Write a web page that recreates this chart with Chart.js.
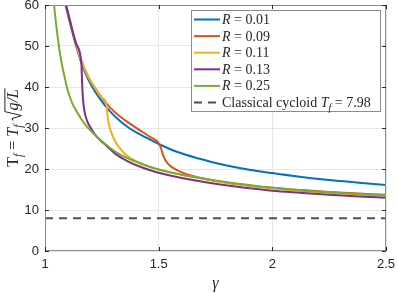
<!DOCTYPE html>
<html>
<head>
<meta charset="utf-8">
<script src="https://cdn.jsdelivr.net/npm/chart.js@4.4.1/dist/chart.umd.min.js"></script>
<style>
    body { margin: 0; background: #fff; }
    canvas { display: block; }
</style>
</head>
<body>
<canvas id="grafico-tempo" width="397" height="293"></canvas>
<script>
// values
var xTicks = [1, 1.5, 2, 2.5]
var yTicks = [0, 10, 20, 30, 40, 50, 60]
var rValues = [0.01, 0.09, 0.11, 0.13, 0.25]
var classicalT = 7.98

var gammaR001 = [1.075, 1.09, 1.112, 1.137, 1.16, 1.19, 1.218, 1.25, 1.29, 1.33, 1.37, 1.416, 1.46, 1.5, 1.58, 1.68, 1.77, 1.88, 2.0, 2.12, 2.25, 2.38, 2.5]
var timeR001 = [63.5, 60, 55.2, 50.0, 45.9, 41.9, 39.1, 36.5, 33.8, 31.7, 30.0, 28.5, 27.2, 26.1, 24.2, 22.5, 21.2, 20.0, 19.0, 18.1, 17.3, 16.65, 16.1]

var gammaR009 = [1.075, 1.09, 1.112, 1.137, 1.16, 1.19, 1.218, 1.25, 1.29, 1.33, 1.37, 1.416, 1.46, 1.5, 1.508, 1.515, 1.522, 1.535, 1.55, 1.575, 1.61, 1.65, 1.7, 1.76, 1.83, 1.92, 2.0, 2.12, 2.25, 2.38, 2.5]
var timeR009 = [64, 60.5, 55.7, 50.5, 46.4, 42.5, 39.9, 37.4, 34.8, 32.8, 31.2, 29.5, 27.9, 26.3, 25.4, 24.2, 23.0, 21.7, 20.8, 19.9, 19.0, 18.3, 17.6, 17.0, 16.4, 15.8, 15.4, 14.9, 14.4, 14.0, 13.7]

var gammaR011 = [1.075, 1.09, 1.112, 1.137, 1.16, 1.19, 1.218, 1.25, 1.27, 1.274, 1.279, 1.285, 1.295, 1.306, 1.32, 1.336, 1.36, 1.39, 1.43, 1.48, 1.54, 1.6, 1.68, 1.77, 1.88, 2.0, 2.12, 2.25, 2.38, 2.5]
var timeR011 = [64, 60.5, 55.7, 50.5, 46.4, 42.5, 39.9, 37.4, 35.9, 33.5, 31.5, 30.0, 28.4, 27.0, 25.7, 24.6, 23.3, 22.2, 21.2, 20.2, 19.3, 18.6, 17.8, 16.9, 16.1, 15.3, 14.7, 14.2, 13.8, 13.5]

var gammaR013 = [1.075, 1.09, 1.112, 1.137, 1.16, 1.162, 1.164, 1.167, 1.171, 1.177, 1.186, 1.2, 1.22, 1.245, 1.27, 1.31, 1.36, 1.416, 1.48, 1.56, 1.65, 1.77, 1.88, 2.0, 2.12, 2.25, 2.38, 2.5]
var timeR013 = [64, 60.5, 55.7, 50.5, 45.8, 43.0, 40.0, 37.2, 35.0, 33.2, 31.6, 30.1, 28.4, 26.9, 25.7, 23.7, 22.0, 20.6, 19.4, 18.3, 17.3, 16.2, 15.4, 14.7, 14.2, 13.7, 13.3, 13.0]

var gammaR025 = [1.035, 1.04, 1.05, 1.062, 1.075, 1.086, 1.1, 1.12, 1.145, 1.165, 1.19, 1.22, 1.262, 1.31, 1.36, 1.416, 1.48, 1.56, 1.65, 1.77, 1.88, 2.0, 2.12, 2.25, 2.38, 2.5]
var timeR025 = [64, 60, 54.8, 49.6, 45.3, 42.5, 39.2, 36.0, 33.5, 31.7, 30.0, 28.3, 26.2, 24.2, 22.7, 21.4, 20.2, 19.1, 18.1, 17.0, 16.2, 15.4, 14.8, 14.3, 13.9, 13.6]

var colors = ['#0072BD', '#D95319', '#EDB120', '#7E2F8E', '#77AC30']
var textColor = '#262626'
var boxColor = '#8c8c8c'

function pontos(xs, ys) {
    return xs.map(function (x, i) { return { x: x, y: ys[i] } })
}

var curves = [
    pontos(gammaR001, timeR001),
    pontos(gammaR009, timeR009),
    pontos(gammaR011, timeR011),
    pontos(gammaR013, timeR013),
    pontos(gammaR025, timeR025)
]

var datasets = curves.map(function (data, i) {
    return {
        label: 'R = ' + rValues[i],
        data: data,
        borderColor: colors[i],
        borderWidth: 2,
        pointRadius: 0,
        cubicInterpolationMode: 'monotone',
        order: 5 - i
    }
})

datasets.push({
    label: 'Classical cycloid T = ' + classicalT,
    data: [{ x: xTicks[0], y: classicalT }, { x: xTicks[xTicks.length - 1], y: classicalT }],
    borderColor: '#4d4d4d',
    borderWidth: 2,
    borderDash: [8, 6],
    pointRadius: 0,
    order: 6
})

// draws a run of pieces: [text, 'r' upright | 'i' italic | 's' italic subscript]
function drawMath(ctx, parts, x, y, size) {
    parts.forEach(function (p) {
        var s = p[1] === 's' ? size * 0.72 : size
        ctx.font = (p[1] === 'r' ? '' : 'italic ') + s + 'px "Liberation Serif", serif'
        ctx.fillText(p[0], x, y + (p[1] === 's' ? size * 0.25 : 0))
        x += ctx.measureText(p[0]).width
    })
    return x
}

function mathWidth(ctx, parts, size) {
    var w = 0
    parts.forEach(function (p) {
        var s = p[1] === 's' ? size * 0.72 : size
        ctx.font = (p[1] === 'r' ? '' : 'italic ') + s + 'px "Liberation Serif", serif'
        w += ctx.measureText(p[0]).width
    })
    return w
}

var boxPlugin = {
    id: 'caixa',
    afterDatasetsDraw: function (chart) {
        var ctx = chart.ctx
        var a = chart.chartArea
        var xs = chart.scales.x
        var ys = chart.scales.y
        ctx.save()
        ctx.strokeStyle = boxColor
        ctx.lineWidth = 1
        ctx.strokeRect(a.left + 0.5, a.top + 0.5, a.right - a.left - 1, a.bottom - a.top - 1)
        // small inner tick marks like matlab
        ctx.strokeStyle = textColor
        ctx.beginPath()
        xTicks.forEach(function (t) {
            var px = Math.round(xs.getPixelForValue(t)) + 0.5
            ctx.moveTo(px, a.bottom); ctx.lineTo(px, a.bottom - 4)
            ctx.moveTo(px, a.top); ctx.lineTo(px, a.top + 4)
        })
        yTicks.forEach(function (t) {
            var py = Math.round(ys.getPixelForValue(t)) + 0.5
            ctx.moveTo(a.left, py); ctx.lineTo(a.left + 4, py)
            ctx.moveTo(a.right, py); ctx.lineTo(a.right - 4, py)
        })
        ctx.stroke()
        ctx.restore()
    },
    afterDraw: function (chart) {
        var ctx = chart.ctx
        ctx.save()
        // legend
        var lx = 191, ly = 10, lw = 189, lh = 101
        ctx.fillStyle = '#fff'
        ctx.fillRect(lx, ly, lw, lh)
        ctx.strokeStyle = boxColor
        ctx.lineWidth = 1
        ctx.strokeRect(lx + 0.5, ly + 0.5, lw, lh)
        chart.data.datasets.forEach(function (ds, i) {
            var cy = 19.5 + i * 16.6
            ctx.strokeStyle = ds.borderColor
            ctx.lineWidth = 2
            ctx.setLineDash(ds.borderDash || [])
            ctx.beginPath()
            ctx.moveTo(194, cy)
            ctx.lineTo(220, cy)
            ctx.stroke()
            ctx.setLineDash([])
            ctx.fillStyle = textColor
            ctx.textBaseline = 'alphabetic'
            ctx.textAlign = 'left'
            var parts
            if (i < rValues.length) {
                parts = [['R', 'i'], [' = ' + rValues[i], 'r']]
            } else {
                parts = [['Classical cycloid ', 'r'], ['T', 'i'], ['f', 's'], [' = ' + classicalT, 'r']]
            }
            drawMath(ctx, parts, 222, cy + 4.5, 14)
        })

        // y axis title, rotated, with a drawn radical over g/L
        var size = 16
        var left = [['T', 'r'], ['f', 's'], [' = ', 'r'], ['T', 'i'], ['f', 's'], [' ', 'r']]
        var rad = [['g/L', 'i']]
        var lw1 = mathWidth(ctx, left, size)
        var gw = mathWidth(ctx, rad, size)
        var w = lw1 + 10 + gw
        ctx.translate(18, 128)
        ctx.rotate(-Math.PI / 2)
        ctx.fillStyle = textColor
        var x0 = drawMath(ctx, left, -w / 2, 0, size)
        ctx.strokeStyle = textColor
        ctx.lineWidth = 1
        ctx.beginPath()
        ctx.moveTo(x0, -size * 0.3)
        ctx.lineTo(x0 + 2, -size * 0.38)
        ctx.lineTo(x0 + 5, size * 0.22)
        ctx.lineTo(x0 + 9, -size * 0.82)
        ctx.lineTo(x0 + 10 + gw + 1, -size * 0.82)
        ctx.stroke()
        drawMath(ctx, rad, x0 + 10, 0, size)
        ctx.restore()
    }
}

new Chart(document.querySelector('#grafico-tempo'), {
    type: 'line',
    data: { datasets: datasets },
    options: {
        responsive: false,
        animation: false,
        devicePixelRatio: 1,
        layout: { padding: { top: 5, right: 11, left: 0, bottom: 0 } },
        plugins: {
            legend: { display: false },
            tooltip: { enabled: false }
        },
        scales: {
            x: {
                type: 'linear',
                min: xTicks[0],
                max: xTicks[xTicks.length - 1],
                afterBuildTicks: function (scale) {
                    scale.ticks = xTicks.map(function (v) { return { value: v } })
                },
                ticks: {
                    color: textColor,
                    padding: 6,
                    maxRotation: 0,
                    font: { family: '"Liberation Sans", Arial', size: 13 },
                    callback: function (v) { return String(v) }
                },
                grid: { color: '#e6e6e6', drawTicks: false },
                border: { display: false },
                title: {
                    display: true,
                    text: '\u03B3',
                    color: textColor,
                    padding: { top: 0, bottom: 0 },
                    font: { family: '"Liberation Serif", serif', style: 'italic', size: 16 }
                },
                afterFit: function (scale) {
                    scale.height = 42
                    scale.paddingLeft = 0
                    scale.paddingRight = 0
                }
            },
            y: {
                min: yTicks[0],
                max: yTicks[yTicks.length - 1],
                afterBuildTicks: function (scale) {
                    scale.ticks = yTicks.map(function (v) { return { value: v } })
                },
                ticks: {
                    color: textColor,
                    padding: 6,
                    font: { family: '"Liberation Sans", Arial', size: 13 }
                },
                grid: { color: '#e6e6e6', drawTicks: false },
                border: { display: false },
                afterFit: function (scale) {
                    scale.width = 45
                    scale.paddingTop = 0
                    scale.paddingBottom = 0
                }
            }
        }
    },
    plugins: [boxPlugin]
})
</script>
</body>
</html>
